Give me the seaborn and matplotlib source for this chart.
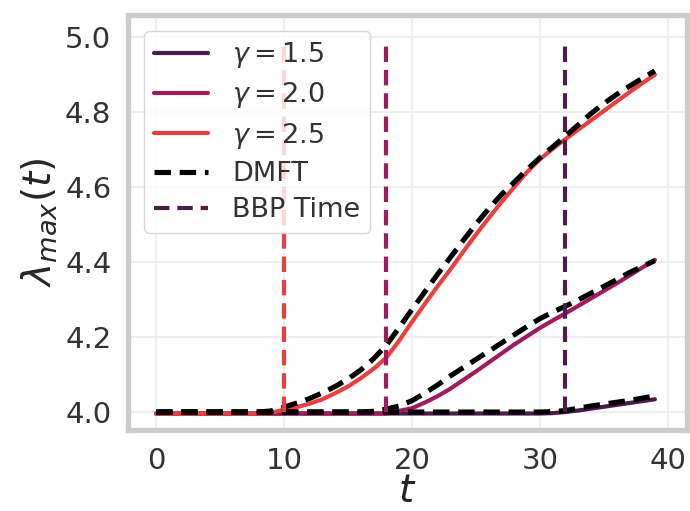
import numpy as np
import pandas as pd
import matplotlib
matplotlib.use("Agg")
import matplotlib.pyplot as plt
import seaborn as sns

# ---- data ----
t = list(range(0, 40))
gammas = [1.5, 2.0, 2.5]
bbp_times = [32, 18, 10]

emp_15 = [3.996] * 31 + [3.997, 4.000, 4.004, 4.009, 4.014, 4.019, 4.024, 4.029, 4.034]
dmft_15 = [4.000] * 31 + [4.001, 4.004, 4.010, 4.016, 4.021, 4.026, 4.031, 4.037, 4.043]

emp_20 = [3.996] * 19 + [4.003, 4.010, 4.025, 4.042, 4.062, 4.085, 4.108, 4.132,
                         4.156, 4.180, 4.202, 4.224, 4.244, 4.263, 4.283, 4.303, 4.323,
                         4.343, 4.364, 4.385, 4.406]
dmft_20 = [4.000] * 17 + [4.002, 4.008, 4.016, 4.030, 4.050, 4.072, 4.096, 4.118, 4.140,
                          4.162, 4.184, 4.206, 4.228, 4.249, 4.266, 4.282, 4.299, 4.317,
                          4.335, 4.353, 4.372, 4.388, 4.404]

emp_25 = [3.996] * 9 + [3.998, 4.006, 4.013, 4.022, 4.034, 4.050, 4.068, 4.090, 4.115,
                        4.145, 4.190, 4.240, 4.288, 4.335, 4.380, 4.427, 4.473, 4.517,
                        4.560, 4.600, 4.640, 4.674, 4.702, 4.728, 4.753, 4.778, 4.803,
                        4.828, 4.853, 4.877, 4.900]
dmft_25 = [4.000] * 9 + [4.003, 4.013, 4.024, 4.036, 4.051, 4.068, 4.088, 4.112, 4.142,
                         4.178, 4.225, 4.273, 4.320, 4.367, 4.412, 4.457, 4.501, 4.542,
                         4.580, 4.613, 4.647, 4.678, 4.707, 4.736, 4.766, 4.796, 4.823,
                         4.847, 4.869, 4.890, 4.910]

emp = [emp_15, emp_20, emp_25]
dmft = [dmft_15, dmft_20, dmft_25]

# ---- style ----
sns.set_theme(style="whitegrid")
plt.rcParams['font.family'] = ['DejaVu Sans']
plt.rcParams['mathtext.fontset'] = 'dejavusans'
palette = sns.color_palette("rocket", 4)[:3]

fig = plt.figure(figsize=(6.9, 5.11), dpi=100)
ax = fig.add_axes([0.1855, 0.1585, 0.810, 0.812])

for g, y, c in zip(gammas, emp, palette):
    df = pd.DataFrame({"t": t, "lam": y})
    sns.lineplot(data=df, x="t", y="lam", ax=ax, color=c, linewidth=2.9,
                 label=rf"$\gamma = {g}$")

for i, y in enumerate(dmft):
    df = pd.DataFrame({"t": t, "lam": y})
    sns.lineplot(data=df, x="t", y="lam", ax=ax, color="black", linewidth=3.6,
                 label="DMFT" if i == 0 else None)

lines = ax.get_lines()
for ln in lines[:3]:
    ln.set_linewidth(3.0)
    ln.set_solid_capstyle("round")
for ln in lines[3:6]:
    ln.set_linewidth(3.7)
    ln.set_linestyle((0, (3.2, 1.7)))

bbp_colors = [palette[0], palette[1], palette[2]]
for i, (bt, c) in enumerate(zip(bbp_times, bbp_colors)):
    ax.vlines(bt, 4.0, 4.988, colors=[c], linestyles=[(0, (3.7, 1.9))], lw=3.0,
              label="BBP Time" if i == 0 else None)

ax.set_xlim(-2.19, 41.5)
ax.set_ylim(3.952, 5.059)
ax.set_xticks([0, 10, 20, 30, 40])
ax.set_yticks([4.0, 4.2, 4.4, 4.6, 4.8, 5.0])
ax.tick_params(labelsize=21, colors="#333333", pad=6)
ax.set_xlabel(r"$t$", fontsize=28, labelpad=-2)
ax.set_ylabel(r"$\lambda_{max}(t)$", fontsize=28, labelpad=4)
ax.grid(True, color="#ebebeb", lw=1.2)
for s in ax.spines.values():
    s.set_color("#cccccc")
    s.set_linewidth(3.8)

handles, labels = ax.get_legend_handles_labels()
leg = ax.legend(handles, labels, loc="upper left", fontsize=19.5,
                handlelength=2.0, borderpad=0.35, labelspacing=0.38,
                handletextpad=0.9, framealpha=0.8,
                bbox_to_anchor=(0.005, 0.995))
for txt in leg.get_texts():
    txt.set_color("#333333")

fig.savefig("out.png", dpi=100)
